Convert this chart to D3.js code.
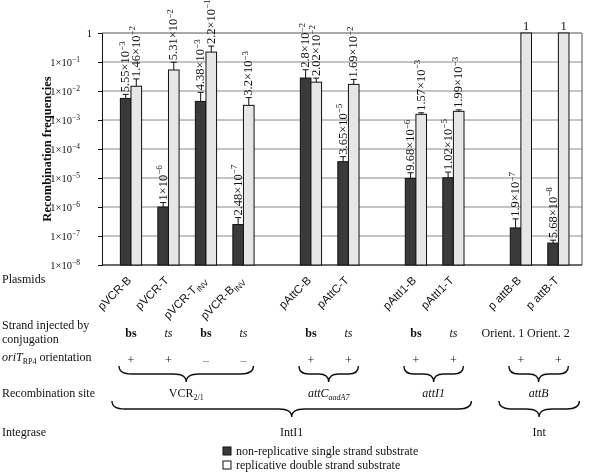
<!DOCTYPE html>
<html><head><meta charset="utf-8">
<script src="https://cdn.jsdelivr.net/npm/d3@7"></script>
<style>
body{margin:0;background:#fff;}
svg{will-change:transform;}
text{font-family:"Liberation Serif","Times New Roman",serif;fill:#111;}
</style></head>
<body><svg id="c" width="591" height="473"></svg>
<script>
// ---- data ----
const plasmids = ["pVCR-B","pVCR-T","pVCR-T|INV","pVCR-B|INV","pAttC-B","pAttC-T","pAttI1-B","pAttI1-T","p  attB-B","p  attB-T"];
const clusterOf = [0,0,0,0,1,1,2,2,3,3];
const ssValues = [5.55e-3,1e-6,4.38e-3,2.48e-7,2.8e-2,3.65e-5,9.68e-6,1.02e-5,1.9e-7,5.68e-8];
const ssErrors = [2.1e-3,4.2e-7,4.6e-3,1.84e-7,2.6e-2,1.8e-5,5.5e-6,5.8e-6,2e-7,1.5e-8];
const ssLabels = [["5.55","−3"],["1","−6"],["4.38","−3"],["2.48","−7"],["2.8","−2"],["3.65","−5"],["9.68","−6"],["1.02","−5"],["1.9","−7"],["5.68","−8"]];
const dsValues = [1.46e-2,5.31e-2,2.2e-1,3.2e-3,2.02e-2,1.69e-2,1.57e-3,1.99e-3,1,1];
const dsErrors = [1.15e-2,4.5e-2,1.34e-1,2.7e-3,7.6e-3,8.2e-3,2e-4,2.5e-4,0,0];
const dsLabels = [["1.46","−2"],["5.31","−2"],["2.2","−1"],["3.2","−3"],["2.02","−2"],["1.69","−2"],["1.57","−3"],["1.99","−3"],["1",null],["1",null]];
const yTickExps = [0,-1,-2,-3,-4,-5,-6,-7,-8];
const strandRow = [["bs","b"],["ts","i"],["bs","b"],["ts","i"],["bs","b"],["ts","i"],["bs","b"],["ts","i"],["Orient. 1","n"],["Orient. 2","n"]];
const oriRow = ["+","+","–","–","+","+","+","+","+","+"];
const siteClusters = [{main:"VCR",sub:"2/1",it:false},{main:"attC",sub:"aadA7",it:true},{main:"attI1",sub:null,it:true},{main:"attB",sub:null,it:true}];
const integrases = [{name:"IntI1",clusters:[0,1,2]},{name:"Int",clusters:[3]}];
const legendItems = ["non-replicative single strand substrate","replicative double strand substrate"];
const colors = {ss:"#3a3a3a", ds:"#e6e6e6"};

// ---- layout ----
const svg = d3.select("#c");
const L=102, R=582, T=33, B=265;
const slot = plasmids.map((p,i)=> i + clusterOf[i]*0.8);
const x = d3.scaleLinear().domain([-0.773, 12.03]).range([L,R]);
const y = d3.scaleLog().domain([1e-8,1]).range([B,T]);
const bw = x(0.283)-x(0);

// gridlines
svg.append("g").selectAll("line").data(yTickExps).join("line")
  .attr("x1",L).attr("x2",R).attr("y1",d=>y(Math.pow(10,d))).attr("y2",d=>y(Math.pow(10,d)))
  .attr("stroke",d=>d===0?"#555":"#8a8a8a").attr("stroke-width",1);
svg.append("line").attr("x1",R).attr("x2",R).attr("y1",T).attr("y2",B).attr("stroke","#555");

// y axis
const yAxis = d3.axisLeft(y).tickValues(yTickExps.map(e=>Math.pow(10,e))).tickSize(4).tickFormat("");
const ga = svg.append("g").attr("transform",`translate(${L},0)`).call(yAxis);
ga.select(".domain").attr("stroke","#111");
ga.selectAll(".tick line").attr("stroke","#111");
const tl = svg.append("g").selectAll("text").data(yTickExps).join("text")
  .attr("x",d=>d===0?92:80).attr("y",d=>y(Math.pow(10,d))+3.5)
  .attr("text-anchor","end").style("font-size","10.5px");
tl.each(function(d){
  const t=d3.select(this);
  if(d===0){t.text("1");return;}
  t.append("tspan").text("1×10");
  t.append("tspan").attr("dy","-0.45em").style("font-size","7.5px").text("−"+(-d));
});
svg.append("line").attr("x1",L).attr("x2",R).attr("y1",B).attr("y2",B).attr("stroke","#111");

// y title
svg.append("text").attr("transform","translate(51,149) rotate(-90)").attr("text-anchor","middle")
  .style("font-size","12.5px").style("font-weight","bold").text("Recombination frequencies");

// bars
const series = [
  {vals:ssValues, errs:ssErrors, labs:ssLabels, color:colors.ss, off:-1},
  {vals:dsValues, errs:dsErrors, labs:dsLabels, color:colors.ds, off:0}
];
series.forEach(s=>{
  const g = svg.append("g");
  const rows = plasmids.map((p,i)=>({i, v:s.vals[i], e:s.errs[i], lab:s.labs[i], x0:x(slot[i])+s.off*bw}));
  g.selectAll("rect").data(rows).join("rect")
    .attr("x",d=>d.x0).attr("width",bw).attr("y",d=>y(d.v)).attr("height",d=>B-y(d.v))
    .attr("fill",s.color).attr("stroke","#111").attr("stroke-width",1);
  const eb = rows.filter(d=>d.e>0);
  g.selectAll("line.eb").data(eb).join("line").attr("class","eb")
    .attr("x1",d=>d.x0+bw/2).attr("x2",d=>d.x0+bw/2).attr("y1",d=>y(d.v)).attr("y2",d=>y(d.v+d.e))
    .attr("stroke","#111");
  g.selectAll("line.cap").data(eb).join("line").attr("class","cap")
    .attr("x1",d=>d.x0+bw/2-3).attr("x2",d=>d.x0+bw/2+3).attr("y1",d=>y(d.v+d.e)).attr("y2",d=>y(d.v+d.e))
    .attr("stroke","#111");
  rows.forEach(d=>{
    const top = y(d.v+d.e);
    if(d.lab[1]===null){
      svg.append("text").attr("x",d.x0+bw/2).attr("y",top-3).attr("text-anchor","middle")
        .style("font-size","12.5px").text(d.lab[0]);
    } else {
      const t = svg.append("text").attr("transform",`translate(${d.x0+bw/2+3.5},${top-2}) rotate(-90)`)
        .style("font-size","12.5px");
      t.append("tspan").text(d.lab[0]+"×10");
      t.append("tspan").attr("dy","-0.5em").style("font-size","9px").text(d.lab[1]);
    }
  });
});

// rows of text on the left
const rowLabels = [
  {t:"Plasmids", y:283},
  {t:"Strand injected by", y:329},
  {t:"conjugation", y:343},
  {t:"Recombination site", y:397},
  {t:"Integrase", y:436}
];
svg.append("g").selectAll("text").data(rowLabels).join("text")
  .attr("x",2).attr("y",d=>d.y).style("font-size","12px").text(d=>d.t);
const ori = svg.append("text").attr("x",2).attr("y",361).style("font-size","12px");
ori.append("tspan").style("font-style","italic").text("oriT");
ori.append("tspan").attr("dy","3").style("font-size","8px").text("RP4");
ori.append("tspan").attr("dy","-3").text(" orientation");

// plasmid tick labels
plasmids.forEach((p,i)=>{
  const parts = p.split("|");
  const t = svg.append("text").attr("transform",`translate(${x(slot[i])+1},${281}) rotate(-45)`)
    .attr("text-anchor","end").style("font-family","'Liberation Sans',Arial,sans-serif").style("font-size","11.5px");
  t.append("tspan").text(parts[0]);
  if(parts[1]) t.append("tspan").attr("dy","3").style("font-size","8px").text(parts[1]);
});

// strand row
strandRow.forEach((s,i)=>{
  let xx = x(slot[i]);
  if(s[1]==="n") xx += (i===8?-18:-10);
  svg.append("text").attr("x",xx).attr("y",337).attr("text-anchor","middle")
    .style("font-size","12px").style("font-weight",s[1]==="b"?"bold":"normal")
    .style("font-style",s[1]==="i"?"italic":"normal").text(s[0]);
});
oriRow.forEach((s,i)=>{
  svg.append("text").attr("x",x(slot[i])).attr("y",364).attr("text-anchor","middle")
    .style("font-size","12px").style("fill",s==="+"?"#111":"#777").text(s);
});

// braces
function brace(x1,x2,yy,h){
  const xm=(x1+x2)/2, q=h/2, r=Math.min(q*1.6,(x2-x1)/6);
  return `M${x1},${yy} Q${x1},${yy+q} ${x1+r},${yy+q} L${xm-r},${yy+q} Q${xm},${yy+q} ${xm},${yy+h} Q${xm},${yy+q} ${xm+r},${yy+q} L${x2-r},${yy+q} Q${x2},${yy+q} ${x2},${yy}`;
}
const clusters = [0,1,2,3].map(c=>{
  const idx = plasmids.map((p,i)=>i).filter(i=>clusterOf[i]===c);
  return {c, first:x(slot[idx[0]]), last:x(slot[idx[idx.length-1]])};
});
clusters.forEach(cl=>{
  const x1=cl.first-12, x2=cl.last+10;
  svg.append("path").attr("d",brace(x1,x2,366,16)).attr("fill","none").attr("stroke","#111").attr("stroke-width",1.4);
  const s = siteClusters[cl.c];
  const t = svg.append("text").attr("x",(x1+x2)/2).attr("y",397).attr("text-anchor","middle").style("font-size","12px");
  t.append("tspan").style("font-style",s.it?"italic":"normal").text(s.main);
  if(s.sub) t.append("tspan").attr("dy","3").style("font-size","8px").style("font-style",s.it?"italic":"normal").text(s.sub);
});
integrases.forEach(ig=>{
  const cs = ig.clusters.map(c=>clusters[c]);
  const x1 = cs[0].first-(ig.name==="Int"?22:19), x2 = cs[cs.length-1].last+(ig.name==="Int"?21:18);
  svg.append("path").attr("d",brace(x1,x2,401,16)).attr("fill","none").attr("stroke","#111").attr("stroke-width",1.4);
  svg.append("text").attr("x",(x1+x2)/2).attr("y",436).attr("text-anchor","middle").style("font-size","12px").text(ig.name);
});

// legend
const lg = svg.append("g").selectAll("g").data(legendItems).join("g")
  .attr("transform",(d,i)=>`translate(223,${447+i*14})`);
lg.append("rect").attr("width",8).attr("height",8).attr("fill",(d,i)=>i===0?colors.ss:"#fff").attr("stroke","#111");
lg.append("text").attr("x",13).attr("y",8).style("font-size","12px").text(d=>d);
</script></body></html>
